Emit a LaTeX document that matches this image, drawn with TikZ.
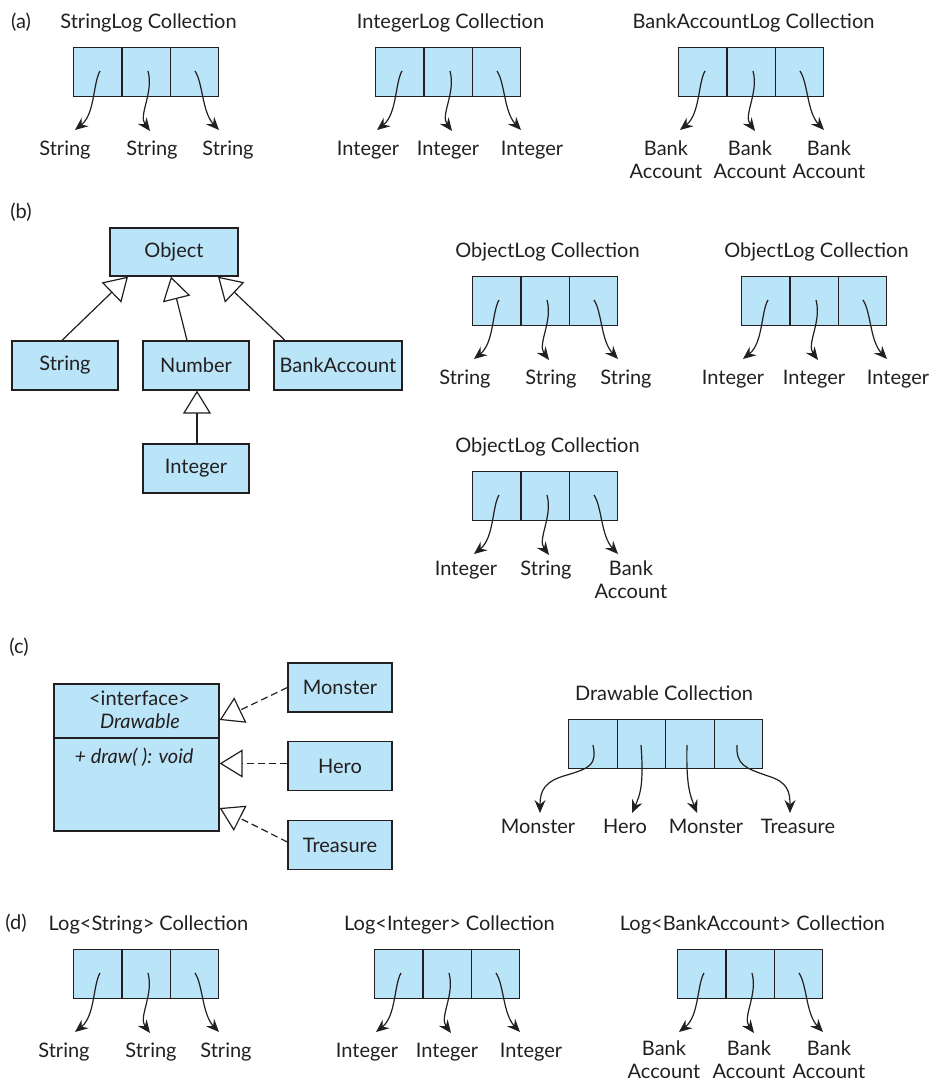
\documentclass[tikz,border=0pt]{standalone}
\usepackage{fontspec}
\setmainfont{Lato}
\usetikzlibrary{arrows.meta}
\definecolor{cellblue}{RGB}{186,228,247}
\definecolor{ink}{RGB}{35,31,32}
\newcommand\bankacct{\begin{tabular}[t]{@{}c@{}}Bank\\Account\end{tabular}}
\tikzset{
  cell/.style={draw=ink, fill=cellblue, line width=1.3pt, minimum width=48.33pt,
    minimum height=49pt, inner sep=0pt, anchor=north west},
  cls/.style={draw=ink, fill=cellblue, line width=1.3pt, inner sep=0pt, text=ink},
  txt/.style={inner sep=0pt, text=ink, anchor=base},
  ptr/.style={draw=ink, line width=1.2pt, -{Stealth[length=13pt,width=11pt,inset=4.5pt]}},
  inherit/.style={draw=ink, line width=1.2pt, -{Triangle[length=23pt,width=28pt,fill=white]}},
  realize/.style={inherit, dash pattern=on 7pt off 4pt},
}
% A three-slot collection: name, left x, top y, title, label list (x/text), label baseline
\newcommand\logcoll[6]{%
  \begin{scope}[shift={(#2,#3)}]
    \node[txt] (#1-t) at (75.5,-19) {#4};
    \node[cell] (#1-c1) at (0,0) {};
    \node[cell] (#1-c2) at (48.33,0) {};
    \node[cell] (#1-c3) at (96.67,0) {};
    \coordinate (#1-s1) at (27,24);
    \coordinate (#1-s2) at (75,24);
    \coordinate (#1-s3) at (122,24);
    \coordinate (#1-e1) at (2,83);
    \coordinate (#1-e2) at (77,84);
    \coordinate (#1-e3) at (146,83);
    \foreach \lx/\lt [count=\i] in {#5} {\node[txt] (#1-l\i) at (\lx,#6) {\lt};}
    \draw[ptr] (#1-s1) .. controls +(-7,12) and +(20,-16) .. (#1-e1);
    \draw[ptr] (#1-s2) .. controls +(6,22) and +(-12,-16) .. (#1-e2);
    \draw[ptr] (#1-s3) .. controls +(8,12) and +(-17,-18) .. (#1-e3);
  \end{scope}}
\begin{document}
\begin{tikzpicture}[x=1pt,y=-1pt,font=\fontsize{20}{23}\selectfont]
\useasboundingbox (0,0) rectangle (932,1082);

% ---- (a) one log class per element type
\node[txt] (pa) at (21,28) {(a)};
\logcoll{sl}{73}{47}{StringLog Collection}{-8/String,79/String,155/String}{108}
\logcoll{il}{375}{47}{IntegerLog Collection}{-7/Integer,73/Integer,157/Integer}{108}
\logcoll{bl}{678}{47}{BankAccountLog Collection}{-12/\bankacct,72/\bankacct,151/\bankacct}{108}

% ---- (b) class hierarchy and ObjectLog collections
\node[txt] (pb) at (21,218) {(b)};
\node[cls, minimum width=128pt, minimum height=48pt] (obj) at (174,252) {Object};
\node[cls, minimum width=106pt, minimum height=49pt] (str) at (65,365.5) {String};
\node[cls, minimum width=106pt, minimum height=49pt] (num) at (196,365.5) {Number};
\node[cls, minimum width=128pt, minimum height=49pt] (bac) at (338,365.5) {BankAccount};
\node[cls, minimum width=106pt, minimum height=49pt] (int) at (196,468.5) {Integer};
\draw[inherit] ([xshift=-3pt]str.north) -- ([xshift=-46pt]obj.south);
\draw[inherit] ([xshift=-9pt]num.north) -- ([xshift=-3pt]obj.south);
\draw[inherit] ([xshift=-53pt]bac.north) -- ([xshift=44pt]obj.south);
\draw[inherit] ([xshift=1pt]int.north) -- ([xshift=1pt]num.south);

\logcoll{ol1}{472}{276}{ObjectLog Collection}{-7/String,79/String,154/String}{108}
\logcoll{ol2}{741}{276}{ObjectLog Collection}{-8/Integer,73/Integer,157/Integer}{108}
\logcoll{ol3}{472}{471}{ObjectLog Collection}{-6/Integer,74/String,159/\bankacct}{104}

% ---- (c) interface and implementing classes
\node[txt] (pc) at (19,653) {(c)};
\node[cls, minimum width=165pt, minimum height=147pt] (drw) at (136.5,757.5) {};
\draw[draw=ink, line width=1.3pt] (drw.west |- 0,738) -- (drw.east |- 0,738);
\node[txt] (ifc) at (139.5,705) {<interface>};
\node[txt] (ifn) at (140,728) {\itshape Drawable};
\node[txt] (ifm) at (134,763) {\itshape + draw( ): void};
\node[cls, minimum width=104pt, minimum height=49pt] (mon) at (340,687.5) {Monster};
\node[cls, minimum width=104pt, minimum height=49pt] (her) at (340,766) {Hero};
\node[cls, minimum width=104pt, minimum height=49pt] (tre) at (340,845) {Treasure};
\draw[realize] (mon.west) -- ([yshift=37.5pt]drw.east);
\draw[realize] ([yshift=2.5pt]her.west) -- ([yshift=-6pt]drw.east);
\draw[realize] ([yshift=3pt]tre.west) -- ([yshift=-50.5pt]drw.east);

\node[txt] (dct) at (664,700) {Drawable Collection};
\foreach \k in {1,...,4} {\node[cell, minimum width=48.5pt] (dc-c\k) at ({568+48.5*(\k-1)},719) {};}
\node[txt] (dc-l1) at (538,833) {Monster};
\node[txt] (dc-l2) at (625,833) {Hero};
\node[txt] (dc-l3) at (706,833) {Monster};
\node[txt] (dc-l4) at (798,833) {Treasure};
\coordinate (dc-s1) at (593,745);
\coordinate (dc-s2) at (641,745);
\coordinate (dc-s3) at (687,745);
\coordinate (dc-s4) at (737,745);
\coordinate (dc-e1) at (540,813);
\coordinate (dc-e2) at (632,813);
\coordinate (dc-e3) at (697,813);
\coordinate (dc-e4) at (790,813);
\draw[ptr] (dc-s1) .. controls (597,765) and (590,768) .. (567,775) .. controls (545,781) and (540,790) .. (dc-e1);
\draw[ptr] (dc-s2) .. controls (644,785) and (640,795) .. (dc-e2);
\draw[ptr] (dc-s3) .. controls (686,785) and (690,795) .. (dc-e3);
\draw[ptr] (dc-s4) .. controls (736,765) and (745,768) .. (768,776) .. controls (788,782) and (790,792) .. (dc-e4);

% ---- (d) generic Log<T> collections
\node[txt] (pd) at (16,929) {(d)};
\logcoll{gs}{73}{949}{Log<String> Collection}{-9/String,78/String,153/String}{108}
\logcoll{gi}{374}{949}{Log<Integer> Collection}{-7/Integer,73/Integer,157/Integer}{108}
\logcoll{gb}{677}{949}{Log<BankAccount> Collection}{-13/\bankacct,72/\bankacct,152/\bankacct}{106}
\end{tikzpicture}
\end{document}
